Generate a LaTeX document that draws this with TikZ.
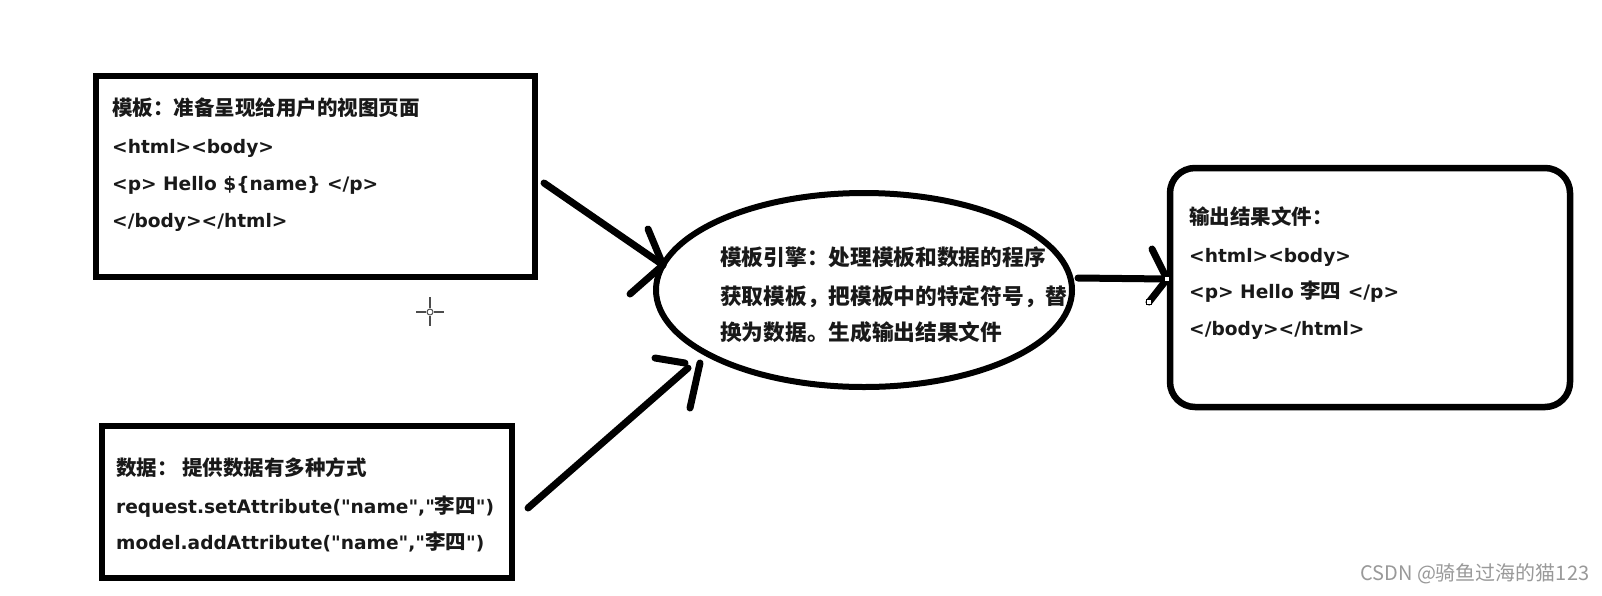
\documentclass[tikz,border=0pt]{standalone}
\usepackage{fontspec}
\setmainfont{DejaVu Sans}
\newfontfamily\cjk{Noto Sans CJK SC}
\usetikzlibrary{shapes.geometric}
\newcommand\zh[1]{{\cjk\bfseries\fontsize{20.5pt}{24pt}\selectfont #1}}
\newcommand\zhe[1]{{\cjk\bfseries\fontsize{21.7pt}{24pt}\selectfont #1}}
\newcommand\dq{\textquotedbl}
\begin{document}
\begin{tikzpicture}[x=1pt,y=-1pt,
  boxstyle/.style={draw=black, line width=6.5pt, inner sep=0pt, fill=none},
  txt/.style={anchor=base west, inner sep=0pt, text=black!90, font=\bfseries\fontsize{18.6pt}{23pt}\selectfont},
  arr/.style={line width=7pt, line cap=round, black},
  handle/.style={draw=black, line width=0.8pt, fill=white, minimum size=5pt, inner sep=0pt},
  cursorline/.style={line width=1.5pt, black!70}
]
\useasboundingbox (0,0) rectangle (1602,595);
\fill[white] (0,0) rectangle (1602,595);

% boxes
\node[boxstyle, minimum width=439pt, minimum height=201pt] (tpl) at (315.5,176.5) {};
\node[boxstyle, minimum width=410pt, minimum height=152pt] (dat) at (307,502) {};
\node[boxstyle, rounded corners=25pt, minimum width=400pt, minimum height=239pt] (out) at (1370,287.5) {};
\node[boxstyle, ellipse, minimum width=416pt, minimum height=194pt, line width=6pt] (eng) at (864,290) {};

% template text
\node[txt] (t1) at (112,115) {\zh{模板：准备呈现给用户的视图页面}};
\node[txt] (t2) at (112,153) {<html><body>};
\node[txt] (t3) at (112,190) {<p> Hello \$\{name\} </p>};
\node[txt] (t4) at (112,227) {</body></html>};

% data text
\node[txt] (d1) at (116,475) {\zh{数据： 提供数据有多种方式}};
\node[txt] (d2) at (116,513) {request.setAttribute(\dq name\dq,\dq\zh{李四}\dq)};
\node[txt] (d3) at (116,549) {model.addAttribute(\dq name\dq,\dq\zh{李四}\dq)};

% output text
\node[txt] (o1) at (1189,224) {\zh{输出结果文件：}};
\node[txt] (o2) at (1189,262) {<html><body>};
\node[txt] (o3) at (1189,298) {<p> Hello \zh{李四} </p>};
\node[txt] (o4) at (1189,335) {</body></html>};

% engine text
\node[txt] (e1) at (720,265) {\zhe{模板引擎：处理模板和数据的程序}};
\node[txt] (e2) at (720,304) {\zhe{获取模板，把模板中的特定符号，替}};
\node[txt] (e3) at (720,340) {\zhe{换为数据。生成输出结果文件}};

% arrow 1: template -> engine
\coordinate (a1s) at (544,183);
\coordinate (a1t) at (663,265);
\coordinate (a1u) at (648,229);
\coordinate (a1d) at (630,294);
\draw[arr] (a1s) -- (a1t);
\draw[arr] (a1u) -- (a1t);
\draw[arr] (a1d) -- (a1t);

% arrow 2: data -> engine
\coordinate (a2s) at (528,508);
\coordinate (a2t) at (688,368);
\coordinate (a2ua) at (655,358);
\coordinate (a2ub) at (685,363);
\coordinate (a2da) at (700,363);
\coordinate (a2db) at (690,408);
\draw[arr] (a2s) -- (a2t);
\draw[arr] (a2ua) -- (a2ub);
\draw[arr] (a2da) -- (a2db);

% arrow 3: engine -> output
\coordinate (a3s) at (1078,278);
\coordinate (a3t) at (1167,279);
\coordinate (a3u) at (1152,249);
\coordinate (a3d) at (1149,302);
\draw[arr] (a3s) -- (a3t);
\draw[arr] (a3u) -- (a3t);
\draw[arr] (a3t) -- (a3d);
\node[handle] (h1) at (a3t) {};
\node[handle] (h2) at (a3d) {};

% cursor crosshair
\coordinate (cur) at (430,312);
\draw[cursorline] (416,312) -- (426,312) (434,312) -- (444,312)
  (430,297) -- (430,308) (430,316) -- (430,326);
\draw[line width=1pt, black!70] (cur) circle (3);

% watermark
\node[anchor=base west, inner sep=0pt, text=black!40, font=\cjk\fontsize{20pt}{22pt}\selectfont] (wm) at (1360,580) {CSDN @骑鱼过海的猫123};
\end{tikzpicture}
\end{document}
